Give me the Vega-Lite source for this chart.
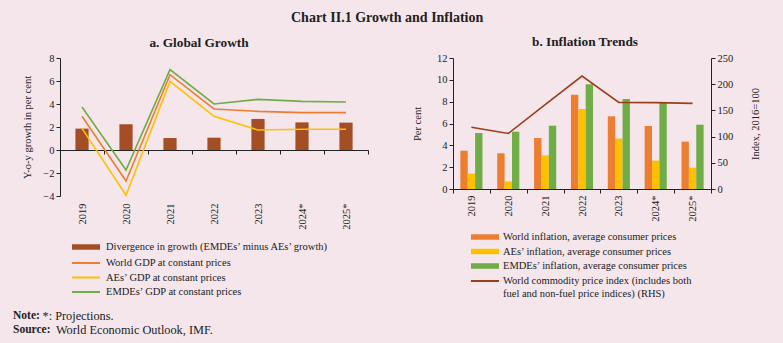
{
  "$schema": "https://vega.github.io/schema/vega-lite/v6.json",
  "background": "#F4E6EB",
  "padding": {"left": 13, "top": 10, "right": 26, "bottom": 9},
  "title": {"text": "Chart II.1 Growth and Inflation", "fontSize": 14, "font": "Liberation Serif", "fontWeight": "bold", "anchor": "middle", "offset": 10, "color": "#222"},
  "datasets": {
    "growth_bars": [
      {"year": "2019", "series": "Divergence in growth (EMDEs’ minus AEs’ growth)", "value": 1.86},
      {"year": "2020", "series": "Divergence in growth (EMDEs’ minus AEs’ growth)", "value": 2.23},
      {"year": "2021", "series": "Divergence in growth (EMDEs’ minus AEs’ growth)", "value": 1.04},
      {"year": "2022", "series": "Divergence in growth (EMDEs’ minus AEs’ growth)", "value": 1.07},
      {"year": "2023", "series": "Divergence in growth (EMDEs’ minus AEs’ growth)", "value": 2.70},
      {"year": "2024*", "series": "Divergence in growth (EMDEs’ minus AEs’ growth)", "value": 2.40},
      {"year": "2025*", "series": "Divergence in growth (EMDEs’ minus AEs’ growth)", "value": 2.38}
    ],
    "growth_lines": [
      {"year": "2019", "series": "World GDP at constant prices", "value": 2.93},
      {"year": "2020", "series": "World GDP at constant prices", "value": -2.70},
      {"year": "2021", "series": "World GDP at constant prices", "value": 6.55},
      {"year": "2022", "series": "World GDP at constant prices", "value": 3.57},
      {"year": "2023", "series": "World GDP at constant prices", "value": 3.36},
      {"year": "2024*", "series": "World GDP at constant prices", "value": 3.25},
      {"year": "2025*", "series": "World GDP at constant prices", "value": 3.25},
      {"year": "2019", "series": "AEs’ GDP at constant prices", "value": 1.88},
      {"year": "2020", "series": "AEs’ GDP at constant prices", "value": -3.94},
      {"year": "2021", "series": "AEs’ GDP at constant prices", "value": 5.97},
      {"year": "2022", "series": "AEs’ GDP at constant prices", "value": 2.93},
      {"year": "2023", "series": "AEs’ GDP at constant prices", "value": 1.74},
      {"year": "2024*", "series": "AEs’ GDP at constant prices", "value": 1.80},
      {"year": "2025*", "series": "AEs’ GDP at constant prices", "value": 1.80},
      {"year": "2019", "series": "EMDEs’ GDP at constant prices", "value": 3.74},
      {"year": "2020", "series": "EMDEs’ GDP at constant prices", "value": -1.74},
      {"year": "2021", "series": "EMDEs’ GDP at constant prices", "value": 6.99},
      {"year": "2022", "series": "EMDEs’ GDP at constant prices", "value": 4.00},
      {"year": "2023", "series": "EMDEs’ GDP at constant prices", "value": 4.40},
      {"year": "2024*", "series": "EMDEs’ GDP at constant prices", "value": 4.23},
      {"year": "2025*", "series": "EMDEs’ GDP at constant prices", "value": 4.17}
    ],
    "infl_bars": [
      {"year": "2019", "series": "World inflation, average consumer prices", "value": 3.51},
      {"year": "2020", "series": "World inflation, average consumer prices", "value": 3.27},
      {"year": "2021", "series": "World inflation, average consumer prices", "value": 4.67},
      {"year": "2022", "series": "World inflation, average consumer prices", "value": 8.64},
      {"year": "2023", "series": "World inflation, average consumer prices", "value": 6.66},
      {"year": "2024*", "series": "World inflation, average consumer prices", "value": 5.77},
      {"year": "2025*", "series": "World inflation, average consumer prices", "value": 4.34},
      {"year": "2019", "series": "AEs’ inflation, average consumer prices", "value": 1.40},
      {"year": "2020", "series": "AEs’ inflation, average consumer prices", "value": 0.70},
      {"year": "2021", "series": "AEs’ inflation, average consumer prices", "value": 3.08},
      {"year": "2022", "series": "AEs’ inflation, average consumer prices", "value": 7.33},
      {"year": "2023", "series": "AEs’ inflation, average consumer prices", "value": 4.61},
      {"year": "2024*", "series": "AEs’ inflation, average consumer prices", "value": 2.60},
      {"year": "2025*", "series": "AEs’ inflation, average consumer prices", "value": 1.95},
      {"year": "2019", "series": "EMDEs’ inflation, average consumer prices", "value": 5.13},
      {"year": "2020", "series": "EMDEs’ inflation, average consumer prices", "value": 5.25},
      {"year": "2021", "series": "EMDEs’ inflation, average consumer prices", "value": 5.80},
      {"year": "2022", "series": "EMDEs’ inflation, average consumer prices", "value": 9.59},
      {"year": "2023", "series": "EMDEs’ inflation, average consumer prices", "value": 8.25},
      {"year": "2024*", "series": "EMDEs’ inflation, average consumer prices", "value": 7.94},
      {"year": "2025*", "series": "EMDEs’ inflation, average consumer prices", "value": 5.89}
    ],
    "commodity": [
      {"year": "2019", "series": "World commodity price index (RHS)", "value": 117.7},
      {"year": "2020", "series": "World commodity price index (RHS)", "value": 106.0},
      {"year": "2021", "series": "World commodity price index (RHS)", "value": 161.0},
      {"year": "2022", "series": "World commodity price index (RHS)", "value": 215.6},
      {"year": "2023", "series": "World commodity price index (RHS)", "value": 165.4},
      {"year": "2024*", "series": "World commodity price index (RHS)", "value": 164.8},
      {"year": "2025*", "series": "World commodity price index (RHS)", "value": 163.5}
    ],
    "notes": [
      {"line": 1, "head": "Note:", "body": "*: Projections."},
      {"line": 2, "head": "Source:", "body": "World Economic Outlook, IMF."}
    ]
  },
  "spacing": 10,
  "vconcat": [
    {
      "spacing": 43,
      "resolve": {"scale": {"fill": "independent", "stroke": "independent", "x": "independent", "y": "independent"}, "legend": {"fill": "independent", "stroke": "independent"}},
      "hconcat": [
        {
          "title": {"text": "a. Global Growth", "offset": 4, "dx": -15},
          "width": 308,
          "height": 138,
          "layer": [
            {
              "data": {"name": "growth_bars"},
              "mark": {"type": "bar", "width": {"band": 0.3}},
              "encoding": {
                "x": {"field": "year", "type": "ordinal", "sort": null,
                  "scale": {"domain": ["2019", "2020", "2021", "2022", "2023", "2024*", "2025*"], "paddingInner": 0, "paddingOuter": 0},
                  "axis": {"title": null, "labelAngle": 270, "tickBand": "extent", "offset": -46, "labelPadding": 49}},
                "y": {"field": "value", "type": "quantitative", "scale": {"domain": [-4, 8]},
                  "axis": {"title": "Y-o-y growth in per cent", "values": [-4, -2, 0, 2, 4, 6, 8], "titlePadding": 10}},
                "fill": {"field": "series", "type": "nominal", "scale": {"range": ["#A34E24"]},
                  "legend": {"orient": "none", "legendX": 20, "legendY": 183, "title": null, "symbolType": "M-2.8,-0.55H2.8V0.55H-2.8Z", "labelOffset": 14}}
              }
            },
            {
              "data": {"name": "growth_lines"},
              "mark": {"type": "line", "strokeWidth": 1.6},
              "encoding": {
                "x": {"field": "year", "type": "ordinal", "sort": null,
                  "axis": {"title": null, "labelAngle": 270, "tickBand": "extent", "offset": -46, "labelPadding": 49}},
                "y": {"field": "value", "type": "quantitative",
                  "axis": {"title": "Y-o-y growth in per cent", "values": [-4, -2, 0, 2, 4, 6, 8], "titlePadding": 10}},
                "stroke": {"field": "series", "type": "nominal", "sort": null,
                  "scale": {"domain": ["World GDP at constant prices", "AEs’ GDP at constant prices", "EMDEs’ GDP at constant prices"], "range": ["#ED7D31", "#FFC000", "#70AD47"]},
                  "legend": {"orient": "none", "legendX": 20, "legendY": 199, "title": null, "symbolType": "M-2.8,0H2.8", "labelOffset": 14}}
              }
            }
          ]
        },
        {
          "title": {"text": "b. Inflation Trends", "offset": 5, "dx": 3},
          "width": 258,
          "height": 131,
          "layer": [
            {
              "data": {"name": "infl_bars"},
              "mark": {"type": "bar"},
              "encoding": {
                "x": {"field": "year", "type": "ordinal", "sort": null,
                  "scale": {"domain": ["2019", "2020", "2021", "2022", "2023", "2024*", "2025*"], "paddingInner": 0, "paddingOuter": 0},
                  "axis": {"title": null, "labelAngle": 270, "tickBand": "extent"}},
                "xOffset": {"field": "series", "type": "nominal", "sort": null,
                  "scale": {"domain": ["World inflation, average consumer prices", "AEs’ inflation, average consumer prices", "EMDEs’ inflation, average consumer prices"], "paddingInner": 0, "paddingOuter": 1.2}},
                "y": {"field": "value", "type": "quantitative", "scale": {"domain": [0, 12]},
                  "axis": {"title": "Per cent", "values": [0, 2, 4, 6, 8, 10, 12], "titlePadding": 14}},
                "fill": {"field": "series", "type": "nominal", "sort": null,
                  "scale": {"domain": ["World inflation, average consumer prices", "AEs’ inflation, average consumer prices", "EMDEs’ inflation, average consumer prices"], "range": ["#ED7D31", "#FFC000", "#70AD47"]},
                  "legend": {"orient": "none", "legendX": 26, "legendY": 173, "title": null, "symbolType": "M-2.8,-0.55H2.8V0.55H-2.8Z", "labelOffset": 12}}
              }
            },
            {
              "data": {"name": "commodity"},
              "mark": {"type": "line", "strokeWidth": 1.6},
              "encoding": {
                "x": {"field": "year", "type": "ordinal", "sort": null,
                  "axis": {"title": null, "labelAngle": 270, "tickBand": "extent"}},
                "y": {"field": "value", "type": "quantitative", "scale": {"domain": [0, 250]},
                  "axis": {"orient": "right", "title": "Index, 2016=100", "values": [0, 50, 100, 150, 200, 250], "titleAngle": 270, "titlePadding": 28}},
                "stroke": {"field": "series", "type": "nominal", "scale": {"range": ["#9C3D1C"]},
                  "legend": {"orient": "none", "legendX": 26, "legendY": 217, "title": null, "symbolType": "M-2.8,0H2.8", "labelOffset": 12,
                    "labelExpr": "['World commodity price index (includes both', 'fuel and non-fuel price indices) (RHS)']"}}
              }
            }
          ],
          "resolve": {"scale": {"y": "independent"}}
        }
      ]
    },
    {
      "width": 250,
      "height": 28,
      "data": {"name": "notes"},
      "layer": [
        {
          "mark": {"type": "text", "align": "left", "baseline": "middle", "fontWeight": "bold", "fontSize": 11.5, "dx": -47, "font": "Liberation Serif", "color": "#222"},
          "encoding": {
            "x": {"datum": 0, "type": "quantitative", "scale": {"domain": [0, 1]}, "axis": null},
            "y": {"field": "line", "type": "ordinal", "axis": null, "scale": {"type": "point", "padding": 0.5}},
            "text": {"field": "head"}
          }
        },
        {
          "transform": [{"filter": "datum.line == 1"}],
          "mark": {"type": "text", "align": "left", "baseline": "middle", "fontSize": 12.3, "dx": -17.5, "font": "Liberation Serif", "color": "#222"},
          "encoding": {
            "x": {"datum": 0, "type": "quantitative"},
            "y": {"field": "line", "type": "ordinal"},
            "text": {"field": "body"}
          }
        },
        {
          "transform": [{"filter": "datum.line == 2"}],
          "mark": {"type": "text", "align": "left", "baseline": "middle", "fontSize": 12.3, "dx": -4, "font": "Liberation Serif", "color": "#222"},
          "encoding": {
            "x": {"datum": 0, "type": "quantitative"},
            "y": {"field": "line", "type": "ordinal"},
            "text": {"field": "body"}
          }
        }
      ]
    }
  ],
  "config": {
    "view": {"stroke": null},
    "font": "Liberation Serif",
    "title": {"font": "Liberation Serif", "fontSize": 13.3, "fontWeight": "bold", "color": "#222", "anchor": "middle"},
    "axis": {"labelFont": "Liberation Serif", "labelFontSize": 10.5, "labelColor": "#222", "titleFont": "Liberation Serif", "titleFontSize": 10.5, "titleFontWeight": "normal", "titleColor": "#222", "domainColor": "#222", "tickColor": "#222", "grid": false, "tickSize": 4},
    "legend": {"labelFont": "Liberation Serif", "labelFontSize": 10.5, "labelColor": "#222", "labelLimit": 400, "symbolSize": 100, "symbolStrokeWidth": 2, "rowPadding": 2.5, "padding": 0, "symbolOpacity": 1}
  }
}
